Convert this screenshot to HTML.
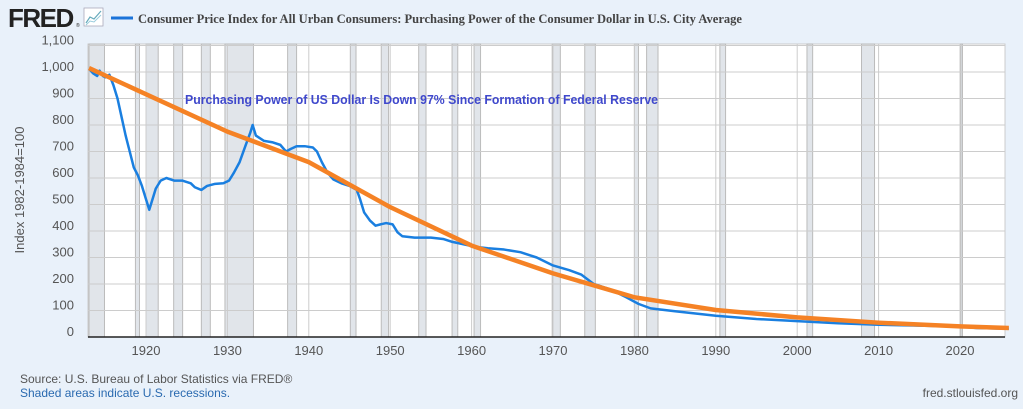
<!DOCTYPE html>
<html><head><meta charset="utf-8"><style>
body{margin:0;width:1023px;height:404px;background:#e9f1fa;overflow:hidden;font-family:"Liberation Sans",sans-serif}
</style></head><body>
<svg id="s" width="1023" height="404" xmlns="http://www.w3.org/2000/svg">
<text x="8" y="27" font-family="Liberation Sans" font-weight="bold" font-size="26" fill="#222" letter-spacing="-1.5">FRED</text>
<text x="76" y="27" font-size="5" fill="#222">®</text>
<rect x="84" y="8" width="19" height="18" fill="#fff" stroke="#aab" stroke-width="0.8"/>
<polyline points="86,23 90,17 94,19 101,11" fill="none" stroke="#6ab" stroke-width="1.2"/>
<polyline points="86,25 90,21 94,22 101,15" fill="none" stroke="#9cd" stroke-width="1"/>
<line x1="111" y1="18" x2="133" y2="18" stroke="#1a73d9" stroke-width="3"/>
<text x="138" y="23" font-family="Liberation Serif" font-weight="bold" font-size="13" fill="#444" textLength="604" lengthAdjust="spacingAndGlyphs">Consumer Price Index for All Urban Consumers: Purchasing Power of the Consumer Dollar in U.S. City Average</text>
<rect x="88" y="44" width="917" height="293" fill="#fff" stroke="#ccc"/>
<g id="g"></g>
<text transform="translate(24,190) rotate(-90)" text-anchor="middle" font-size="13" fill="#555">Index 1982-1984=100</text>
<text x="20" y="383" font-size="12" fill="#555">Source: U.S. Bureau of Labor Statistics via FRED®</text>
<text x="20" y="397" font-size="12" fill="#2a6ab0">Shaded areas indicate U.S. recessions.</text>
<text x="1018" y="397" text-anchor="end" font-size="12" fill="#555">fred.stlouisfed.org</text>
</svg>
<script>
const X=y=>146+(y-1920)*8.14, Y=v=>337-v*0.265;
let h='';
const rec=[[1913,1914.9],[1918.7,1919.2],[1920,1921.5],[1923.4,1924.5],[1926.8,1927.9],[1929.7,1933.2],[1937.4,1938.5],[1945.1,1945.8],[1948.9,1949.8],[1953.5,1954.4],[1957.6,1958.3],[1960.3,1961.1],[1969.9,1970.9],[1973.9,1975.2],[1980,1980.5],[1981.5,1982.9],[1990.5,1991.2],[2001.2,2001.9],[2007.9,2009.5],[2020.1,2020.3]];
rec.forEach(r=>{let a=Math.max(88,X(r[0])),b=X(r[1]);h+=`<rect x="${a}" y="44" width="${Math.max(1,b-a)}" height="293" fill="#e1e5ea" stroke="#bbb" stroke-width="1"/>`});
for(let v=0;v<=1100;v+=100){let y=Y(v);h+=`<line x1="88" x2="1005" y1="${y}" y2="${y}" stroke="#ccc"/>`;h+=`<text x="74" y="${y-1}" text-anchor="end" font-size="13" fill="#555">${v.toLocaleString('en-US')}</text>`}
for(let yr=1920;yr<=2020;yr+=10){let x=X(yr);h+=`<line x1="${x}" x2="${x}" y1="44" y2="337" stroke="#ccc"/>`;h+=`<text x="${x}" y="355" text-anchor="middle" font-size="13" fill="#555">${yr}</text>`}
h+=`<line x1="88" x2="1005" y1="337" y2="337" stroke="#222" stroke-width="1.5"/>`;
const b=[[1913,1012],[1913.5,995],[1914,985],[1914.3,1005],[1914.7,985],[1915,980],[1915.5,990],[1916,950],[1916.5,900],[1917,830],[1917.5,760],[1918,700],[1918.5,640],[1919,610],[1919.5,570],[1920,520],[1920.4,480],[1920.8,520],[1921.2,560],[1921.8,590],[1922.5,600],[1923.5,590],[1924.5,590],[1925.5,580],[1926,565],[1926.8,555],[1927.5,570],[1928.5,578],[1929.5,580],[1930.2,590],[1930.8,620],[1931.5,660],[1932.2,720],[1932.8,770],[1933.1,800],[1933.5,760],[1934.5,740],[1935.5,735],[1936.5,725],[1937.2,700],[1937.8,710],[1938.5,720],[1939.5,720],[1940.5,715],[1941,700],[1941.6,660],[1942.3,620],[1943,595],[1944,580],[1945,570],[1945.9,555],[1946.3,520],[1946.8,470],[1947.5,440],[1948.2,420],[1948.8,425],[1949.5,430],[1950.3,425],[1950.9,395],[1951.5,380],[1953,375],[1955,375],[1956.5,370],[1957.5,360],[1959,350],[1960.5,340],[1962,335],[1964,330],[1966,320],[1968,300],[1970,270],[1972,252],[1973.5,235],[1975,200],[1977,180],[1979,150],[1980.5,125],[1982,108],[1985,97],[1990,80],[1995,68],[2000,60],[2005,52],[2010,46],[2015,43],[2020,39],[2022,34],[2026,31]];
h+=`<polyline points="${b.map(p=>X(p[0])+','+Y(p[1])).join(' ')}" fill="none" stroke="#1a7fe0" stroke-width="2.5" stroke-linejoin="round"/>`;
const o=[[1913,1015],[1930,775],[1940,660],[1950,490],[1960,345],[1970,240],[1975,195],[1980,150],[1990,102],[2000,74],[2010,54],[2020,40],[2026,34]];
h+=`<polyline points="${o.map(p=>X(p[0])+','+Y(p[1])).join(' ')}" fill="none" stroke="#f58225" stroke-width="4.5" stroke-linejoin="round"/>`;
h+=`<text x="185" y="104" font-weight="bold" font-size="12.5" fill="#3f48cc" textLength="473" lengthAdjust="spacingAndGlyphs">Purchasing Power of US Dollar Is Down 97% Since Formation of Federal Reserve</text>`;
document.getElementById('g').innerHTML=h;
</script>
</body></html>
